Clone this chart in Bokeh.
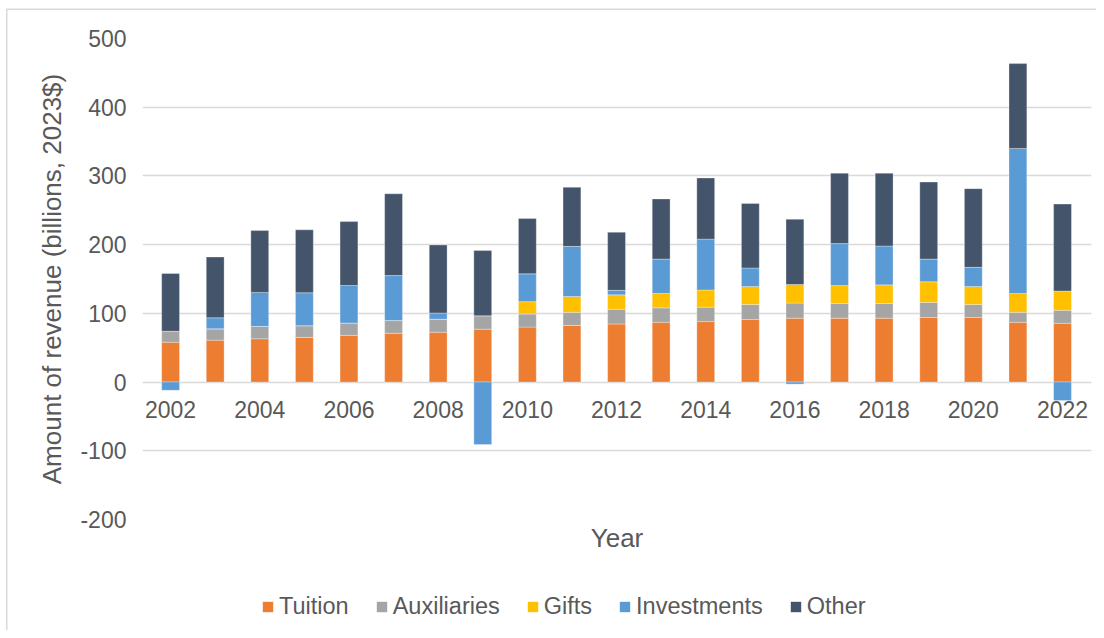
from bokeh.plotting import figure
from bokeh.layouts import column
from bokeh.models import ColumnDataSource, Legend, LegendItem, FixedTicker, Range1d, Title
from bokeh.embed import file_html
from bokeh.resources import INLINE

years = list(range(2002, 2023))
tuition = [58, 61, 63, 65, 68, 71, 72.5, 77, 80, 82.5, 84.5, 87, 88, 91, 93, 93, 93, 94, 94, 87, 85.5]
auxiliaries = [16, 16.5, 18, 17, 18, 18.5, 19, 19.5, 19, 19, 21.5, 21, 21, 22, 22, 21.5, 21.5, 22, 19, 14.5, 19]
gifts = [0, 0, 0, 0, 0, 0, 0, 0, 18, 23, 21, 21, 25, 26, 27, 26, 27, 30, 26, 27.5, 28]
investments = [-12, 16, 49.5, 48, 54.5, 65.5, 9, -91, 40.5, 73, 6.5, 50, 74, 27, -3, 61, 56.5, 33, 28, 211, -27]
other = [84, 88.5, 90, 91.5, 93, 119, 99, 95, 80.5, 86, 84.5, 87.5, 89, 94, 95, 102.5, 106, 112, 114.5, 123.5, 126.5]

series_names = ["Tuition", "Auxiliaries", "Gifts", "Investments", "Other"]
series_values = [tuition, auxiliaries, gifts, investments, other]
series_colors = ["#ED7D31", "#A5A5A5", "#FFC000", "#5B9BD5", "#44546A"]

year_tick_positions = [2002, 2004, 2006, 2008, 2010, 2012, 2014, 2016, 2018, 2020, 2022]
y_ticks = [-200, -100, 0, 100, 200, 300, 400, 500]
y_tick_labels = ["-200", "-100", "0", "100", "200", "300", "400", "500"]

FONT = "Liberation Sans"
GREY = "#595959"

p = figure(width=1096, height=570, output_backend="svg", toolbar_location=None,
           x_range=Range1d(2001.37, 2022.65), y_range=Range1d(-200, 500),
           min_border_left=142, min_border_right=5, min_border_top=38, min_border_bottom=51)
p.outline_line_color = None
p.border_fill_color = None

pos_base = [0.0] * len(years)
neg_base = [0.0] * len(years)
sources = []
for name, vals, col in zip(series_names, series_values, series_colors):
    bottoms, tops = [], []
    for i, v in enumerate(vals):
        if v >= 0:
            bottoms.append(pos_base[i]); tops.append(pos_base[i] + v); pos_base[i] += v
        else:
            bottoms.append(neg_base[i] + v); tops.append(neg_base[i]); neg_base[i] += v
    src = ColumnDataSource(dict(x=years, bottom=bottoms, top=tops))
    sources.append(src)
    p.vbar(x="x", bottom="bottom", top="top", width=0.4, source=src,
           fill_color=col, line_color="white", line_width=0.6, line_alpha=0.5)

# axes
p.yaxis.ticker = FixedTicker(ticks=y_ticks)
p.yaxis.major_label_overrides = {t: s for t, s in zip(y_ticks, y_tick_labels)}
p.yaxis.axis_label = "Amount of revenue (billions, 2023$)"
p.yaxis.axis_label_text_font = FONT
p.yaxis.axis_label_text_font_size = "26px"
p.yaxis.axis_label_text_font_style = "normal"
p.yaxis.axis_label_text_color = GREY
p.yaxis.axis_label_standoff = 10
p.yaxis.major_label_text_font = FONT
p.yaxis.major_label_text_font_size = "23px"
p.yaxis.major_label_text_color = GREY
p.yaxis.major_label_standoff = 16
p.yaxis.major_tick_out = 0
p.yaxis.major_tick_in = 0
p.yaxis.axis_line_color = None
p.yaxis.major_tick_line_color = None
p.yaxis.minor_tick_line_color = None

# category axis crossing at zero
p.xaxis.fixed_location = 0
p.xaxis.ticker = FixedTicker(ticks=year_tick_positions)
p.xaxis.major_label_text_font = FONT
p.xaxis.major_label_text_font_size = "23px"
p.xaxis.major_label_text_color = GREY
p.xaxis.major_label_standoff = 19
p.xaxis.major_tick_out = 0
p.xaxis.major_tick_in = 0
p.xaxis.axis_line_color = None
p.xaxis.major_tick_line_color = None
p.xaxis.minor_tick_line_color = None

p.xgrid.grid_line_color = None
p.ygrid.grid_line_color = "#d9d9d9"
p.ygrid.grid_line_width = 1.5

xtitle = Title(text="Year", align="center", text_font=FONT, text_font_size="26px",
               text_font_style="normal", text_color=GREY, standoff=2, offset=0)
p.add_layout(xtitle, "below")

# legend strip (its renderers use the same data, lying wholly outside this strip's visible ranges)
lf = figure(width=1096, height=60, output_backend="svg", toolbar_location=None,
            x_range=Range1d(2001.37, 2022.65), y_range=Range1d(1000, 1001),
            min_border_left=142, min_border_right=5, min_border_top=0, min_border_bottom=0)
lf.axis.visible = False
lf.xgrid.visible = False
lf.ygrid.visible = False
lf.outline_line_color = None
lf.border_fill_color = None
lf.background_fill_color = None
items = []
for name, col, src in zip(series_names, series_colors, sources):
    r = lf.vbar(x="x", bottom="bottom", top="top", width=0.4, source=src, fill_color=col, line_color=None)
    items.append(LegendItem(label=name, renderers=[r]))
legend = Legend(items=items, orientation="horizontal", location=(119, 10),
                label_text_font=FONT, label_text_font_size="23.5px", label_text_color=GREY,
                glyph_width=13, glyph_height=13, label_standoff=5, spacing=26,
                border_line_color=None, background_fill_alpha=0, margin=0, padding=0)
lf.add_layout(legend, "center")

layout = column(p, lf, spacing=0)
layout.styles = {"box-shadow": "inset 6px 8.5px 0 0 #ffffff, inset 7.5px 10px 0 0 #d9d9d9"}

open("out.html", "w").write(file_html(layout, INLINE))
